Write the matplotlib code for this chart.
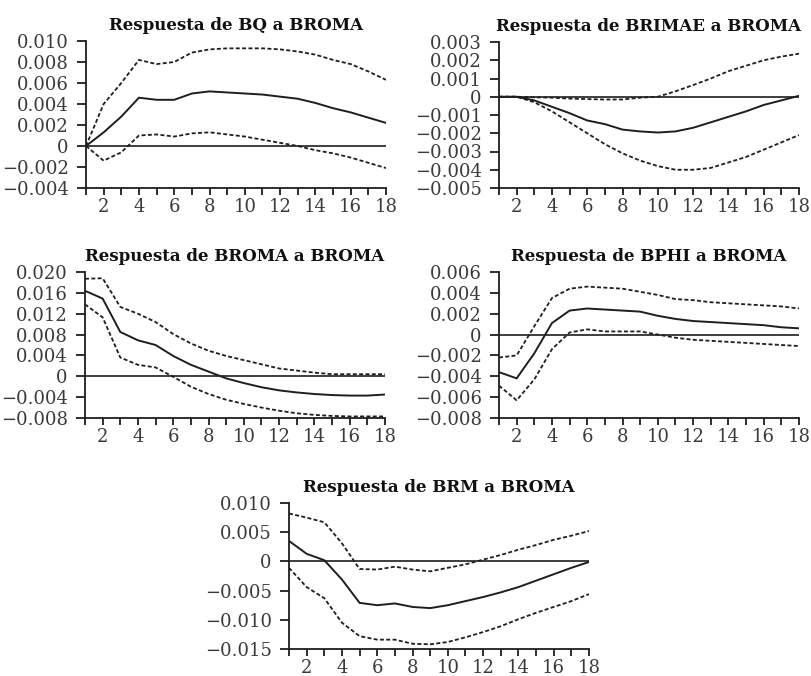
import matplotlib
matplotlib.use("Agg")
import matplotlib.pyplot as plt
from matplotlib.ticker import FixedLocator, FixedFormatter

plt.rcParams['font.family'] = ['DejaVu Serif']
plt.rcParams['axes.unicode_minus'] = False

periods = list(range(1, 19))

# Panel 1: BQ
bq_mid = [0.0, 0.0013, 0.0028, 0.0046, 0.0044, 0.0044, 0.0050, 0.0052, 0.0051,
          0.0050, 0.0049, 0.0047, 0.0045, 0.0041, 0.0036, 0.0032, 0.0027, 0.0022]
bq_up = [0.0, 0.0040, 0.0060, 0.0082, 0.0078, 0.0080, 0.0089, 0.0092, 0.0093,
         0.0093, 0.0093, 0.0092, 0.0090, 0.0087, 0.0082, 0.0078, 0.0071, 0.0063]
bq_lo = [0.0, -0.0014, -0.0006, 0.0010, 0.0011, 0.0009, 0.0012, 0.0013, 0.0011,
         0.0009, 0.0006, 0.0003, 0.0, -0.0004, -0.0007, -0.0011, -0.0016, -0.0021]
bq_ticks = [0.010, 0.008, 0.006, 0.004, 0.002, 0.0, -0.002, -0.004]
bq_labels = ["0.010", "0.008", "0.006", "0.004", "0.002", "0", "−0.002", "−0.004"]

# Panel 2: BRIMAE
brimae_mid = [0.0, 0.0, -0.0002, -0.00055, -0.0009, -0.0013, -0.0015, -0.0018, -0.0019,
              -0.00196, -0.0019, -0.0017, -0.0014, -0.0011, -0.0008, -0.00045, -0.0002, 0.00005]
brimae_up = [0.0, 0.0, -0.00003, -0.00005, -0.0001, -0.00013, -0.00015, -0.00015, -0.00005,
             0.0, 0.0003, 0.00064, 0.0010, 0.0014, 0.0017, 0.0020, 0.0022, 0.00236]
brimae_lo = [0.0, 0.0, -0.0003, -0.0008, -0.0014, -0.0020, -0.0026, -0.0031, -0.0035,
             -0.0038, -0.0040, -0.0040, -0.0039, -0.0036, -0.0033, -0.0029, -0.0025, -0.0021]
brimae_ticks = [0.003, 0.002, 0.001, 0.0, -0.001, -0.002, -0.003, -0.004, -0.005]
brimae_labels = ["0.003", "0.002", "0.001", "0", "−0.001", "−0.002", "−0.003", "−0.004", "−0.005"]

# Panel 3: BROMA
broma_mid = [0.0164, 0.0149, 0.0085, 0.0069, 0.0060, 0.0039, 0.0022, 0.0009, -0.0004,
             -0.0013, -0.0021, -0.0027, -0.0031, -0.0034, -0.0036, -0.0037, -0.0037, -0.0035]
broma_up = [0.0187, 0.0188, 0.0133, 0.0120, 0.0104, 0.0081, 0.0063, 0.0049, 0.0039,
            0.0031, 0.0023, 0.0015, 0.0011, 0.0007, 0.0004, 0.0004, 0.0004, 0.0004]
broma_lo = [0.0138, 0.0113, 0.0036, 0.0022, 0.0017, -0.0001, -0.0020, -0.0034, -0.0045,
            -0.0053, -0.0060, -0.0066, -0.0071, -0.0074, -0.0076, -0.0077, -0.0077, -0.0077]
broma_ticks = [0.020, 0.016, 0.012, 0.008, 0.004, 0.0, -0.004, -0.008]
broma_labels = ["0.020", "0.016", "0.012", "0.008", "0.004", "0", "−0.004", "−0.008"]

# Panel 4: BPHI
bphi_mid = [-0.0036, -0.0042, -0.0018, 0.0011, 0.0023, 0.0025, 0.0024, 0.0023, 0.0022,
            0.0018, 0.0015, 0.0013, 0.0012, 0.0011, 0.0010, 0.0009, 0.0007, 0.0006]
bphi_up = [-0.0022, -0.0020, 0.0008, 0.0035, 0.0044, 0.0046, 0.0045, 0.0044, 0.0041,
           0.0038, 0.0034, 0.0033, 0.0031, 0.0030, 0.0029, 0.0028, 0.0027, 0.0025]
bphi_lo = [-0.0049, -0.0063, -0.0043, -0.0014, 0.0002, 0.0005, 0.0003, 0.0003, 0.0003,
           0.0, -0.0003, -0.0005, -0.0006, -0.0007, -0.0008, -0.0009, -0.0010, -0.0011]
bphi_ticks = [0.006, 0.004, 0.002, 0.0, -0.002, -0.004, -0.006, -0.008]
bphi_labels = ["0.006", "0.004", "0.002", "0", "−0.002", "−0.004", "−0.006", "−0.008"]

# Panel 5: BRM
brm_mid = [0.0035, 0.0013, 0.0002, -0.0031, -0.0071, -0.0075, -0.0072, -0.0078, -0.0080,
           -0.0075, -0.0068, -0.0061, -0.0053, -0.0044, -0.0033, -0.0022, -0.0011, -0.0001]
brm_up = [0.0082, 0.0075, 0.0067, 0.0031, -0.0013, -0.0014, -0.0009, -0.0014, -0.0017,
          -0.0011, -0.0005, 0.0003, 0.0011, 0.0020, 0.0028, 0.0037, 0.0044, 0.0052]
brm_lo = [-0.0011, -0.0044, -0.0063, -0.0105, -0.0128, -0.0134, -0.0134, -0.0141, -0.0142,
          -0.0138, -0.0130, -0.0121, -0.0111, -0.0099, -0.0088, -0.0078, -0.0068, -0.0056]
brm_ticks = [0.010, 0.005, 0.0, -0.005, -0.010, -0.015]
brm_labels = ["0.010", "0.005", "0", "−0.005", "−0.010", "−0.015"]

titles = ["Respuesta de BQ a BROMA", "Respuesta de BRIMAE a BROMA",
          "Respuesta de BROMA a BROMA", "Respuesta de BPHI a BROMA",
          "Respuesta de BRM a BROMA"]

x_labels = ["" if p % 2 else str(p) for p in periods]

W, H = 812, 676
fig = plt.figure(figsize=(W / 100, H / 100), dpi=100)

def px_axes(x0, ytop, ybot, w=300):
    return fig.add_axes([x0 / W, 1 - ybot / H, w / W, (ybot - ytop) / H])

panels = [
    (px_axes(86, 41, 188), bq_mid, bq_up, bq_lo, bq_ticks, bq_labels),
    (px_axes(499, 42, 188), brimae_mid, brimae_up, brimae_lo, brimae_ticks, brimae_labels),
    (px_axes(85, 272, 418), broma_mid, broma_up, broma_lo, broma_ticks, broma_labels),
    (px_axes(499, 272, 418), bphi_mid, bphi_up, bphi_lo, bphi_ticks, bphi_labels),
    (px_axes(289, 503, 649), brm_mid, brm_up, brm_lo, brm_ticks, brm_labels),
]

lc = '#1e1e1e'
for (ax, mid, up, lo, yt, yl), title in zip(panels, titles):
    ax.axhline(0, color=lc, lw=1.2, zorder=1)
    ax.plot(periods, mid, color=lc, lw=1.4, solid_joinstyle='miter')
    ax.plot(periods, up, color=lc, lw=1.3, ls=(0, (2.2, 1.3)))
    ax.plot(periods, lo, color=lc, lw=1.3, ls=(0, (2.2, 1.3)))
    ax.set_xlim(1, 18)
    ax.set_ylim(min(yt), max(yt))
    ax.yaxis.set_major_locator(FixedLocator(yt))
    ax.yaxis.set_major_formatter(FixedFormatter(yl))
    ax.xaxis.set_major_locator(FixedLocator(periods))
    ax.xaxis.set_major_formatter(FixedFormatter(x_labels))
    for s in ['top', 'right']:
        ax.spines[s].set_visible(False)
    for s in ['left', 'bottom']:
        ax.spines[s].set_linewidth(1.3)
        ax.spines[s].set_color(lc)
    ax.tick_params(axis='y', direction='out', length=6.5, width=1.3, pad=6,
                   labelsize=13, colors=lc, labelcolor='#3a3a3a')
    ax.tick_params(axis='x', direction='out', length=5, width=1.3, pad=2,
                   labelsize=13, colors=lc, labelcolor='#3a3a3a')
    ax.set_title(title, fontsize=12, fontweight='bold', color='#111111', pad=8)
    ax.patch.set_alpha(0)

fig.savefig("out.png", dpi=100)
